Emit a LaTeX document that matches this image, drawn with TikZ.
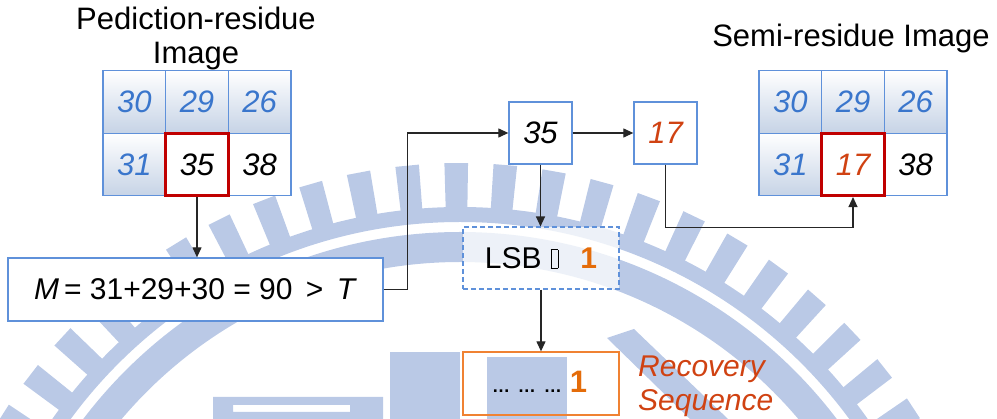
\documentclass[tikz,border=0pt]{standalone}
\usepackage{fontspec}
\setmainfont{Liberation Sans}
\usetikzlibrary{arrows.meta}

\definecolor{boxblue}{RGB}{95,145,218}
\definecolor{numblue}{RGB}{58,118,204}
\definecolor{cellred}{RGB}{192,0,0}
\definecolor{valred}{RGB}{208,66,18}
\definecolor{bitorange}{RGB}{228,108,10}
\definecolor{seqorange}{RGB}{240,130,50}
\definecolor{cellshade}{RGB}{198,211,230}
\definecolor{wmblue}{RGB}{186,201,230}

\tikzset{
  cell/.style={draw=boxblue, line width=1.3pt, minimum width=62.7pt,
    minimum height=62.5pt, inner sep=0pt,
    font=\fontsize{31}{34}\selectfont\itshape},
  shadedcell/.style={cell, top color=white, bottom color=cellshade, text=numblue},
  plaincell/.style={cell, fill=white},
  hotcell/.style={cell, draw=cellred, line width=2.6pt, fill=white},
  valbox/.style={draw=boxblue, line width=1.3pt, fill=white, minimum width=63pt,
    minimum height=62pt, inner sep=0pt, font=\fontsize{31}{34}\selectfont\itshape},
  conn/.style={line width=1.2pt, draw=black!85},
  tip/.style={-{Triangle[length=10pt,width=9pt]}},
  lbl/.style={font=\fontsize{31}{34}\selectfont, inner sep=0pt},
  wm/.style={fill=wmblue}
}

\begin{document}
\begin{tikzpicture}[x=1pt,y=-1pt]
\useasboundingbox (0,0) rectangle (997,419);

% faint emblem in the background
\begin{scope}
  \clip (0,0) rectangle (997,419);
  \begin{scope}[shift={(460,705)}]
    \foreach \k in {-11,...,11} {
      \pgfmathsetmacro\ca{-90.4+5.2*\k}
      \fill[wm] ({\ca-1.25}:496) -- ({\ca-1.25}:542) -- ({\ca+1.25}:542)
        -- ({\ca+1.25}:496) -- cycle;
    }
    \fill[wm, even odd rule] (0,0) circle[radius=498] (0,0) circle[radius=483];
    \fill[wm, even odd rule] (0,0) circle[radius=473] (0,0) circle[radius=443];
  \end{scope}
  \fill[wm] (390,352) rectangle (460,419);
  \fill[wm] (487,357) rectangle (567,419);
  \fill[wm, even odd rule] (213,397) rectangle (383,419) (233,405) rectangle (350,412);
  \fill[wm] (607,338) -- (634,329) -- (728,419) -- (690,419) -- cycle;
\end{scope}

% prediction-residue image
\node[lbl, anchor=base] (ltitle1) at (196,30) {Pediction-residue};
\node[lbl, anchor=base] (ltitle2) at (196,64) {Image};
\node[shadedcell] (l11) at (134.3,102) {30};
\node[shadedcell] (l12) at (197.0,102) {29};
\node[shadedcell] (l13) at (259.7,102) {26};
\node[shadedcell] (l21) at (134.3,164.5) {31};
\node[plaincell]  (l23) at (259.7,164.5) {38};
\node[hotcell]    (l22) at (197.0,164.5) {35};

% semi-residue image
\node[lbl, anchor=base] (rtitle) at (851,47) {Semi-residue Image};
\node[shadedcell] (r11) at (790.3,102) {30};
\node[shadedcell] (r12) at (853.0,102) {29};
\node[shadedcell] (r13) at (915.7,102) {26};
\node[shadedcell] (r21) at (790.3,164.5) {31};
\node[plaincell]  (r23) at (915.7,164.5) {38};
\node[hotcell, text=valred] (r22) at (853.0,164.5) {17};

% threshold test
\node[draw=boxblue, line width=1.3pt, fill=white, minimum width=375pt,
  minimum height=63pt, inner sep=0pt, font=\fontsize{30}{32}\selectfont]
  (mbox) at (195.5,289.5) {\textit{M}\hspace{5pt}= 31+29+30 = 90 \,>\, \textit{T}};

% pixel value and its new value
\node[valbox] (b35) at (540.5,133) {35};
\node[valbox, text=valred] (b17) at (665.5,133) {17};

% extracted bit
\node[draw=boxblue, dashed, dash pattern=on 5pt off 3pt, line width=1.1pt,
  fill=white, fill opacity=0.75, text opacity=1, minimum width=156pt,
  minimum height=62pt, inner sep=0pt, font=\fontsize{30}{32}\selectfont]
  (lsb) at (541,258) {LSB\hspace{9pt}{\setlength\fboxsep{0pt}\setlength\fboxrule{0.9pt}\fbox{\rule{0pt}{18pt}\hspace{6pt}}}\hspace{22pt}{\bfseries\color{bitorange}1}};

% recovery sequence
\node[draw=seqorange, line width=1.3pt, minimum width=156pt, minimum height=63pt,
  inner sep=0pt] (rec) at (541,383.5) {};
\node[font=\fontsize{18}{20}\selectfont\bfseries, inner sep=0pt, anchor=base]
  (dots) at (527,393) {\ldots\hspace{8pt}\ldots\hspace{8pt}\ldots};
\node[font=\fontsize{31}{34}\selectfont\bfseries, text=bitorange, inner sep=0pt,
  anchor=base] (bit) at (578.5,393) {1};
\node[font=\fontsize{30}{34}\selectfont\itshape, text=valred, inner sep=0pt,
  anchor=base west] (seq1) at (638,377) {Recovery};
\node[font=\fontsize{30}{34}\selectfont\itshape, text=valred, inner sep=0pt,
  anchor=base west] (seq2) at (638,411) {Sequence};

% connectors
\draw[conn, tip] (l22.south) -- (l22.south |- mbox.north);
\draw[conn, tip] (mbox.east) -- ++(24,0) |- (b35.west);
\draw[conn, tip] (b35.east) -- (b17.west);
\draw[conn, tip] (b35.south) -- (b35.south |- lsb.north);
\draw[conn, tip] (lsb.south) -- (lsb.south |- rec.north);
\draw[conn, tip] (b17.south) -- ++(0,63) -| (r22.south);
\end{tikzpicture}
\end{document}
